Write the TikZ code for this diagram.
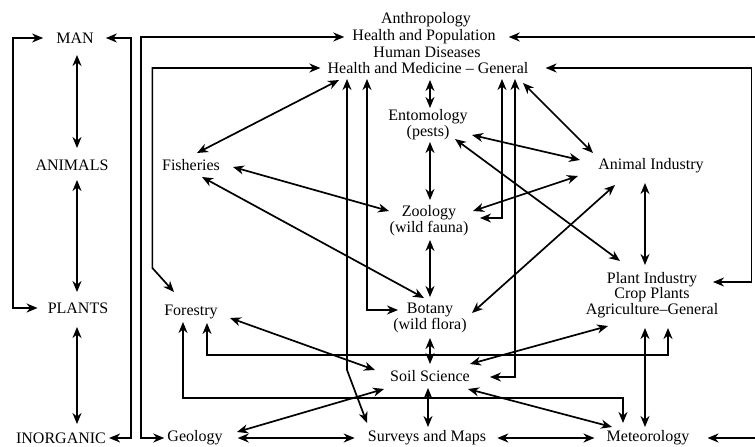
\documentclass[tikz,border=0pt]{standalone}
\usepackage{fontspec}
\setmainfont{Liberation Serif}
\usetikzlibrary{arrows.meta,calc}
\begin{document}
\begin{tikzpicture}[x=1pt,y=-1pt,
  lbl/.style={inner sep=0pt, font=\fontsize{16}{16}\selectfont, align=center},
  lbltight/.style={inner sep=0pt, font=\fontsize{16}{14.5}\selectfont, align=center},
  con/.style={line width=1.7pt, line join=miter,
    {Stealth[length=11pt,width=9pt,inset=3.5pt]}-{Stealth[length=11pt,width=9pt,inset=3.5pt]}},
]
\useasboundingbox (0,0) rectangle (755,447);

% ---------- nodes ----------
\node[lbl] (man) at (75,38) {MAN};
\node[lbl] (animals) at (72,165) {ANIMALS};
\node[lbl] (plants) at (78,308) {PLANTS};
\node[lbl] (inorganic) at (61,438) {INORGANIC};

\node[lbl] (anthro) at (426,20) {Anthropology};
\node[lbl] (healthpop) at (424,37) {Health and Population};
\node[lbl] (humandis) at (427,52) {Human Diseases};
\node[lbl] (healthmed) at (428,68) {Health and Medicine \textendash{} General};

\node[lbl] (ento) at (428,125) {Entomology\\(pests)};
\node[lbl] (fish) at (191,165) {Fisheries};
\node[lbl] (animind) at (651,166) {Animal Industry};
\node[lbl] (zoo) at (429,221) {Zoology\\(wild fauna)};
\node[lbltight] (plantind) at (652,295) {Plant Industry\\Crop Plants\\Agriculture\textendash General};
\node[lbl] (forestry) at (191,312) {Forestry};
\node[lbl] (botany) at (430,318) {Botany\\(wild flora)};
\node[lbl] (soil) at (430,376) {Soil Science};
\node[lbl] (surveys) at (427,438) {Surveys and Maps};
\node[lbl] (geology) at (195,438) {Geology};
\node[lbl] (meteo) at (648,438) {Meteorology};

% ---------- left column ----------
\draw[con] ($(man)+(2,17)$) -- ($(animals)+(5,-17)$);
\draw[con] ($(animals)+(5,15)$) -- ($(plants)+(-1,-16)$);
\draw[con] ($(plants)+(-1,19)$) -- ($(inorganic)+(16,-14)$);
\draw[con] ($(man.west)+(-13,0)$) -- ++(-30,0) |- ($(plants.west)+(-10,0)$);
\draw[con] ($(man.east)+(12,0)$) -- ++(25,0) |- ($(inorganic.east)+(3,0)$);

% ---------- long brackets ----------
\draw[con] ($(healthpop.west)+(-8,0)$) -- ++(-203,0) |- ($(geology.west)+(-3,0)$);
\draw[con] ($(healthmed.west)+(-7,0)$) -- ++(-168,0) -- ++(0,200) -- ($(forestry)+(-17,-20)$);
\draw[con] ($(healthpop.east)+(13,0)$) -- ++(248,0) |- ($(meteo.east)+(18,0)$);
\draw[con] ($(healthmed.east)+(17,0)$) -- ++(206,0) |- ($(plantind)+(61,-13)$);

% ---------- Fisheries ----------
\draw[con] ($(fish)+(6,-12)$) -- ($(healthmed)+(-89,12)$);
\draw[con] ($(fish)+(42,2)$) -- ($(zoo)+(-40,-10)$);
\draw[con] ($(fish)+(11,12)$) -- ($(botany)+(-6,-20)$);

% ---------- verticals from Health and Medicine ----------
\draw[con] ($(healthmed)+(-81,11)$) -- ++(0,291) -- ($(surveys)+(-60,-15)$);
\draw[con] ($(healthmed)+(-61,11)$) |- ($(botany)+(-32,-8)$);
\draw[con] ($(healthmed)+(74,11)$) |- ($(zoo)+(51,-3)$);
\draw[con] ($(healthmed)+(87,11)$) |- ($(soil)+(60,1)$);

% ---------- central column ----------
\draw[con] ($(healthmed)+(2,12)$) -- ($(ento)+(2,-17)$);
\draw[con] ($(ento)+(2,17)$) -- ($(zoo)+(1,-21)$);
\draw[con] ($(zoo)+(1,19)$) -- ($(botany)+(0,-21)$);
\draw[con] ($(botany)+(0,20)$) -- ($(soil)+(0,-12)$);
\draw[con] ($(soil)+(-2,12)$) -- ($(surveys)+(1,-11)$);

% ---------- right side ----------
\draw[con] ($(healthmed)+(95,15)$) -- ($(animind)+(-58,-13)$);
\draw[con] ($(ento)+(44,10)$) -- ($(animind)+(-71,-6)$);
\draw[con] ($(ento)+(27,14)$) -- ($(plantind)+(-32,-34)$);
\draw[con] ($(zoo)+(44,-10)$) -- ($(animind)+(-73,10)$);
\draw[con] ($(botany)+(42,-5)$) -- ($(animind)+(-36,19)$);
\draw[con] ($(animind)+(-6,17)$) -- ($(plantind)+(-7,-30)$);

% ---------- Forestry ----------
\draw[con] ($(forestry)+(39,6)$) -- ($(soil)+(-55,-6)$);
\draw[con] ($(forestry)+(16,11)$) -- ++(0,32) -| ($(plantind)+(16,33)$);
\draw[con] ($(forestry)+(-8,10)$) -- ++(0,76) -| ($(meteo)+(-25,-15)$);

% ---------- bottom ----------
\draw[con] ($(geology)+(42,-6)$) -- ($(soil)+(-46,13)$);
\draw[con] ($(geology.east)+(15,0)$) -- ($(surveys.west)+(-13,0)$);
\draw[con] ($(surveys.east)+(11,0)$) -- ($(meteo.west)+(-12,0)$);
\draw[con] ($(soil)+(40,-12)$) -- ($(plantind)+(-44,31)$);
\draw[con] ($(soil)+(38,13)$) -- ($(meteo)+(-36,-11)$);
\draw[con] ($(plantind)+(-7,33)$) -- ($(meteo)+(-3,-11)$);
\end{tikzpicture}
\end{document}
